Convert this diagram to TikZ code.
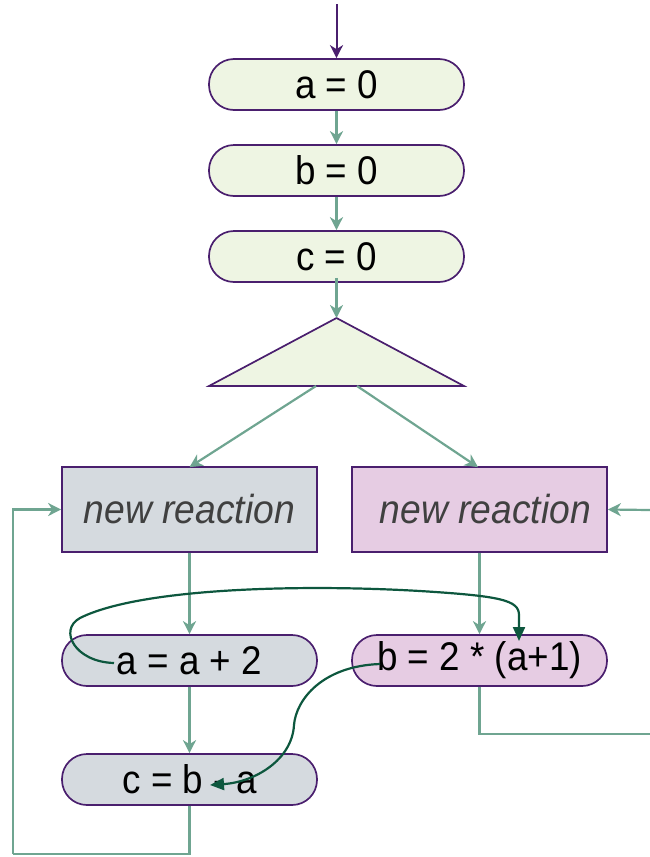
\documentclass[tikz,border=0pt]{standalone}
\usepackage{fontspec}
\setmainfont{Liberation Sans}[FakeStretch=0.92]
\usetikzlibrary{arrows.meta}
\definecolor{gfill}{HTML}{EEF5E3}
\definecolor{pborder}{HTML}{4A1F6E}
\definecolor{teal1}{HTML}{6FA591}
\definecolor{grayfill}{HTML}{D5DADF}
\definecolor{pinkfill}{HTML}{E6CCE3}
\definecolor{dgreen}{HTML}{0D573E}
\definecolor{itxt}{HTML}{404040}
\tikzset{
  stad/.style={draw=pborder, line width=1.7pt, rounded corners=25pt, minimum width=255pt, minimum height=51pt, inner sep=0pt, font=\fontsize{40}{42}\selectfont},
  rbox/.style={draw=pborder, line width=1.7pt, minimum width=255pt, minimum height=85pt, inner sep=0pt, font=\fontsize{40.5}{42}\selectfont\itshape, text=itxt},
  flow/.style={draw=teal1, line width=2.2pt, -{Stealth[length=13pt,width=13pt,inset=4pt]}},
  flowline/.style={draw=teal1, line width=2.2pt},
  dep/.style={draw=dgreen, line width=2.2pt, -{Triangle[length=14pt,width=12pt]}}
}
\begin{document}
\begin{tikzpicture}[x=1pt,y=-1pt]
\useasboundingbox (0,0) rectangle (649,857);
\node[stad, fill=gfill] (a0) at (336.5,84.5) {a = 0};
\node[stad, fill=gfill] (b0) at (336.5,170.5) {b = 0};
\node[stad, fill=gfill] (c0) at (336.5,256.5) {c = 0};
\coordinate (tapex) at (336.5,318);
\coordinate (tbl) at (209,386);
\coordinate (tbr) at (464,386);
\coordinate (tbL) at (316,386);
\coordinate (tbR) at (357,386);
\draw[draw=pborder, line width=1.7pt, fill=gfill, line join=miter] (tapex) -- (tbr) -- (tbl) -- cycle;
\node[rbox, fill=grayfill] (nrL) at (189.5,509.5) {new reaction};
\node[rbox, fill=pinkfill] (nrR) at (479.5,509.5) {\hspace*{12pt}new reaction};
\node[stad, fill=grayfill] (aa) at (189.5,660.5) {a = a + 2};
\node[stad, fill=pinkfill] (bb) at (479.5,660.5) {b = 2 * (a+1)};
\node[stad, fill=grayfill] (cc) at (189.5,779.5) {c = b - a};
\coordinate (start) at (336.5,4);
\coordinate (loopL) at (13,854);
\coordinate (rend) at (650,734);
\coordinate (rin) at (650,510);
\draw[draw=pborder, line width=2pt, -{Stealth[length=13pt,width=13pt,inset=4pt]}] (start) -- (a0.north);
\draw[flow] (a0.south) -- (b0.north);
\draw[flow] (b0.south) -- (c0.north);
\draw[flow] ([yshift=5pt]c0.south) -- (tapex);
\draw[flow] (tbL) -- ([yshift=-1pt]nrL.north);
\draw[flow] (tbR) -- ([yshift=-1pt]nrR.north -| 478,0);
\draw[flow] (nrL.south) -- (aa.north);
\draw[flow] (nrR.south) -- (bb.north);
\draw[flow] (aa.south) -- (cc.north);
\draw[flowline] (cc.south) |- (loopL);
\draw[flow] (loopL) |- (nrL.west);
\draw[flowline] (bb.south) |- (rend);
\draw[flow] (rin) -- (nrR.east);
\coordinate (s1) at (114,663);
\coordinate (e1) at (519,641);
\draw[dep] (s1) .. controls (75,662) and (58,630) .. (80,618) .. controls (140,588) and (300,584) .. (420,591) .. controls (500,596) and (519,600) .. (519,615) -- (e1);
\coordinate (s2) at (380,664);
\coordinate (e2) at (210,785);
\draw[dep] (s2) .. controls (322,666) and (296,700) .. (294,725) .. controls (292,760) and (255,782) .. (e2);
\end{tikzpicture}
\end{document}
